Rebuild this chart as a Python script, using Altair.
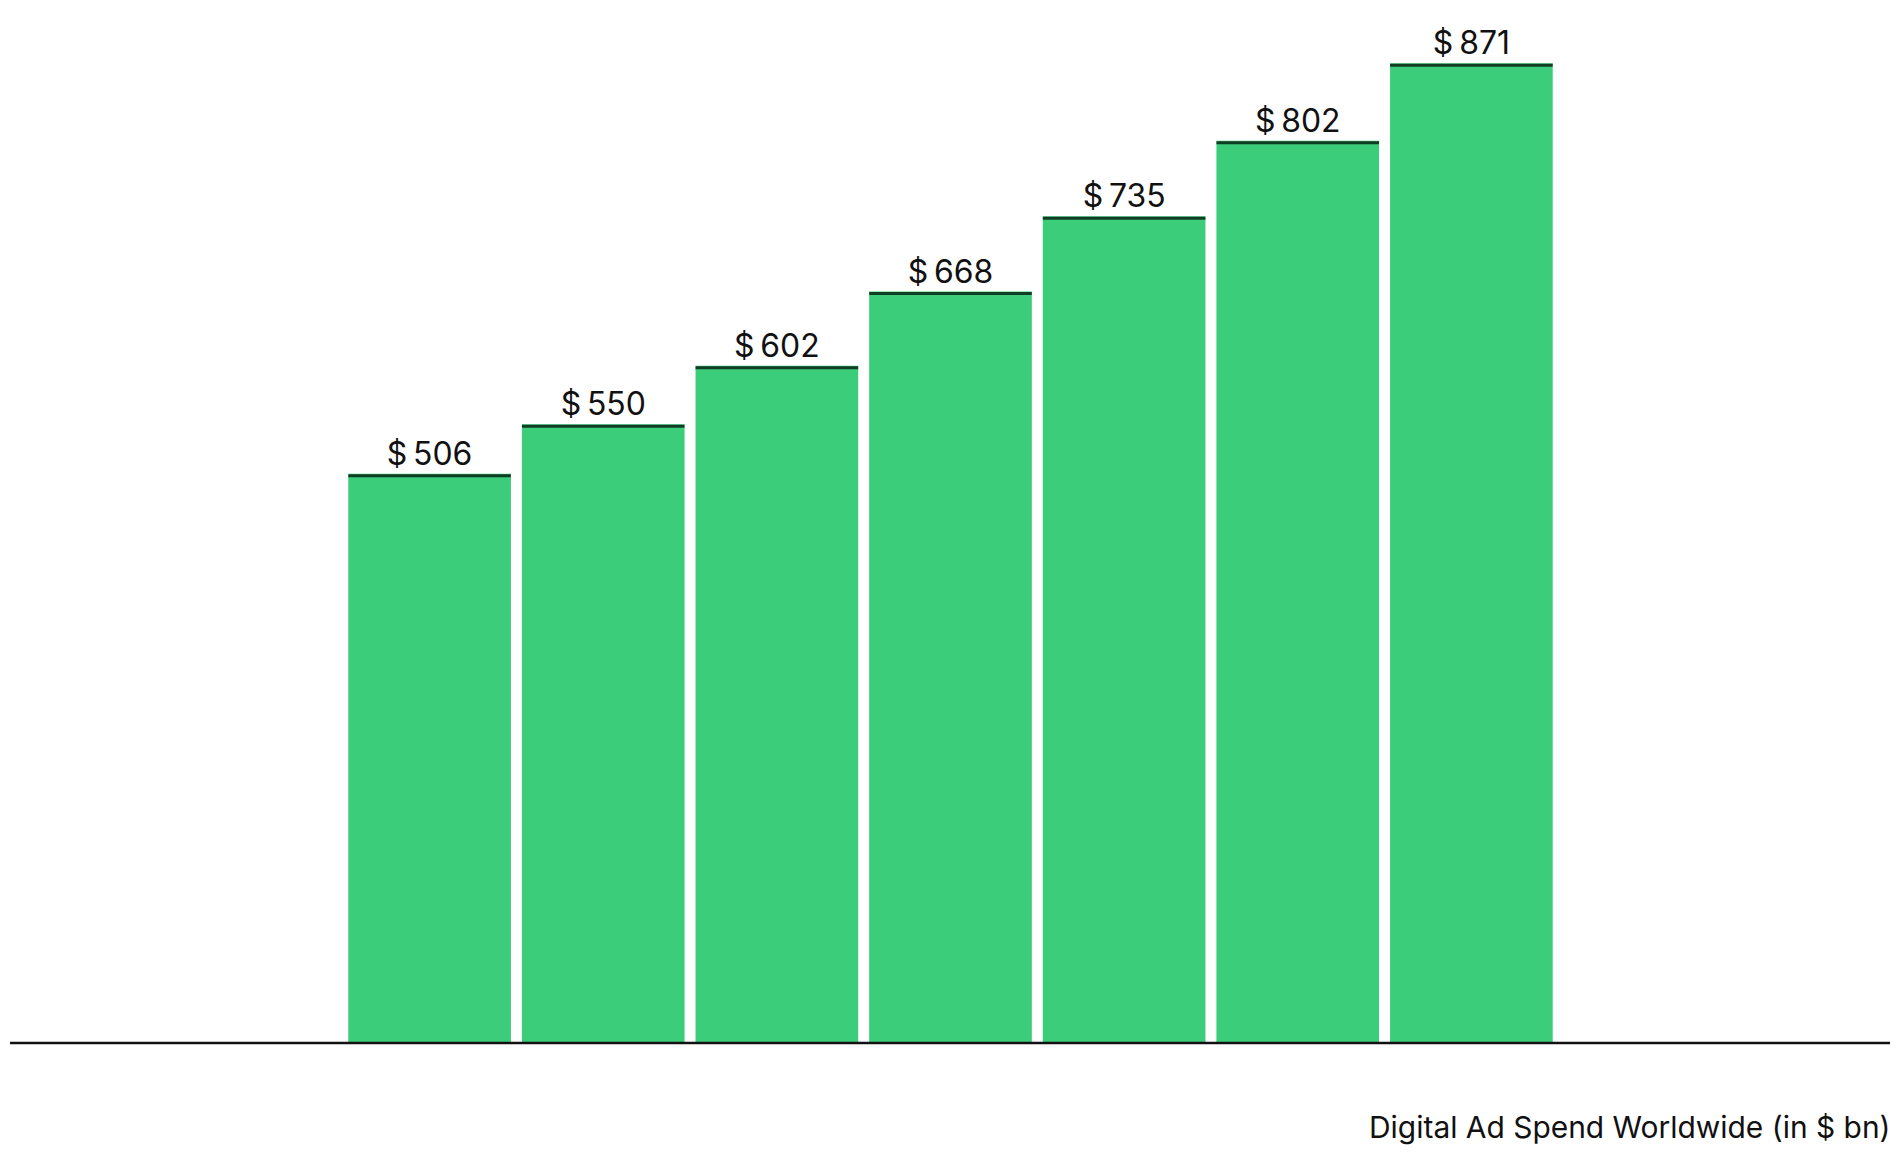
import altair as alt
import pandas as pd

years = ["2021", "2022", "2023", "2024", "2025", "2026", "2027"]
spend = [506, 550, 602, 668, 735, 802, 871]
caption = "Digital Ad Spend Worldwide (in $ bn)"

df = pd.DataFrame({"year": years, "spend": spend})

W = 1884
H = 1036
GREEN = "#3BCD7A"
FONT = "Inter"

x_enc = alt.X(
    "year:N",
    sort=years,
    scale=alt.Scale(range=[339, 1546], paddingInner=0.0632, paddingOuter=0),
    axis=alt.Axis(
        title=caption,
        labels=False,
        ticks=False,
        grid=False,
        domain=False,
        titleFont=FONT,
        titleFontSize=30,
        titleFontWeight="normal",
        titleColor="#111111",
        titleAlign="right",
        titleAnchor="end",
        titleBaseline="alphabetic",
        titleX=W,
        titleY=95,
    ),
)
y_enc = alt.Y("spend:Q", scale=alt.Scale(domain=[0, 919], nice=False, zero=True), axis=None)

base = alt.Chart(df).encode(x=x_enc, y=y_enc)

bars = base.mark_bar(color=GREEN, cornerRadius=0)

tops = base.mark_tick(color="#000000", thickness=3, size=163, orient="horizontal", yOffset=2)

labels = base.transform_calculate(
    label="'$\u2009' + datum.spend"
).mark_text(
    font=FONT, fontSize=32, color="#111111", baseline="alphabetic", align="center", dy=-9
).encode(text="label:N")

baseline = alt.Chart(pd.DataFrame({"zero": [0]})).mark_rule(
    color="#111111", strokeWidth=2.5
).encode(x=alt.value(0), x2=alt.value(W), y=alt.Y("zero:Q", scale=alt.Scale(domain=[0, 919], nice=False), axis=None))

chart = (
    alt.layer(bars, tops, labels, baseline)
    .properties(
        width=W,
        height=H,
        padding={"left": 0, "top": 0, "right": 0, "bottom": 0},
        background="white",
    )
    .configure_view(strokeWidth=0, stroke="transparent")
)

chart.save("out.html", embed_options={"renderer": "svg", "actions": False})
